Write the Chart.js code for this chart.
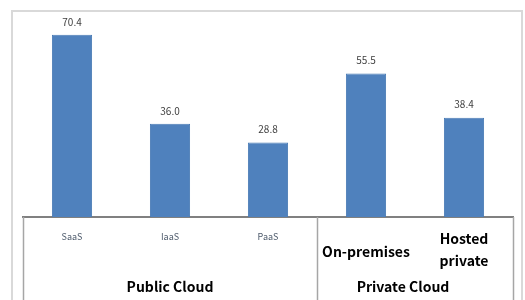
<!DOCTYPE html>
<html>
<head>
    <title>Cloud Chart</title>
    <style>
        body {
            margin: 0;
            background: white;
        }
        .frame {
            position: absolute;
            left: 11px;
            top: 10px;
            width: 512px;
            height: 300px;
            border-left: 2px solid #d9d9d9;
            border-top: 2px solid #d9d9d9;
            border-right: 2px solid #d9d9d9;
            box-sizing: border-box;
        }
        .chart-box {
            position: absolute;
            left: 0;
            top: 0;
            width: 525px;
            height: 300px;
        }
    </style>
</head>
<body>
    <div class="frame"></div>
    <div class="chart-box">
        <canvas id="cloudChart" width="525" height="300"></canvas>
    </div>

    <script src="https://cdn.jsdelivr.net/npm/chart.js"></script>
    <script>
        const categories = ['SaaS', 'IaaS', 'PaaS', 'On-premises', 'Hosted private'];
        const shares = [70.4, 36.0, 28.8, 55.5, 38.4];
        const groupNames = ['Public Cloud', 'Private Cloud'];
        const groupSizes = [3, 2];

        const fontFamily = '"Noto Sans CJK KR", "Noto Sans", sans-serif';

        // value labels, category labels, group labels and table lines
        const tablePlugin = {
            id: 'tablePlugin',
            afterDatasetsDraw(chart) {
                const ctx = chart.ctx;
                const x = chart.scales.x;
                const area = chart.chartArea;
                const meta = chart.getDatasetMeta(0);
                const half = (x.getPixelForValue(1) - x.getPixelForValue(0)) / 2;

                ctx.save();
                ctx.textAlign = 'center';
                ctx.textBaseline = 'middle';

                // values above bars
                ctx.fillStyle = '#404040';
                ctx.font = '10px ' + fontFamily;
                meta.data.forEach((bar, i) => {
                    ctx.fillText(shares[i].toFixed(1), bar.x, bar.y - 13);
                });

                // table lines
                ctx.strokeStyle = '#a6a6a6';
                ctx.lineWidth = 1.5;
                let start = 0;
                const edges = [x.left];
                groupSizes.forEach(n => {
                    start += n;
                    edges.push(x.getPixelForValue(start - 1) + half);
                });
                edges.forEach(px => {
                    ctx.beginPath();
                    ctx.moveTo(Math.round(px) + 0.5, area.bottom);
                    ctx.lineTo(Math.round(px) + 0.5, chart.height);
                    ctx.stroke();
                });

                // category labels
                categories.forEach((c, i) => {
                    const px = x.getPixelForValue(i);
                    if (i < groupSizes[0]) {
                        ctx.fillStyle = '#4d5a6b';
                        ctx.font = '9px ' + fontFamily;
                        ctx.fillText(c, px, area.bottom + 20);
                    } else {
                        ctx.fillStyle = '#000';
                        ctx.font = 'bold 14px ' + fontFamily;
                        const lines = c === 'Hosted private' ? ['Hosted', 'private'] : [c];
                        if (lines.length === 1) {
                            ctx.fillText(c, px, area.bottom + 35);
                        } else {
                            ctx.fillText(lines[0], px, area.bottom + 22);
                            ctx.fillText(lines[1], px, area.bottom + 44);
                        }
                    }
                });

                // group labels
                ctx.fillStyle = '#000';
                ctx.font = 'bold 14px ' + fontFamily;
                start = 0;
                groupNames.forEach((g, k) => {
                    const left = edges[k];
                    const right = edges[k + 1];
                    const shift = k === 1 ? -12 : 0;
                    ctx.fillText(g, (left + right) / 2 + shift, area.bottom + 70);
                });

                ctx.restore();
            }
        };

        new Chart(document.getElementById('cloudChart'), {
            type: 'bar',
            data: {
                labels: categories,
                datasets: [{
                    data: shares,
                    backgroundColor: '#4f81bd',
                    borderColor: '#4a7bb5',
                    borderWidth: 1,
                    barPercentage: 0.5,
                    categoryPercentage: 0.82
                }]
            },
            options: {
                responsive: false,
                animation: false,
                layout: {
                    padding: { left: 23, right: 12, top: 10, bottom: 0 }
                },
                plugins: {
                    legend: { display: false },
                    tooltip: { enabled: false }
                },
                scales: {
                    x: {
                        grid: { display: false },
                        border: { display: true, color: '#808080', width: 2 },
                        ticks: { display: false },
                        afterFit(scale) { scale.height = 83; }
                    },
                    y: {
                        display: false,
                        min: 0,
                        max: 80
                    }
                }
            },
            plugins: [tablePlugin]
        });
    </script>
</body>
</html>
